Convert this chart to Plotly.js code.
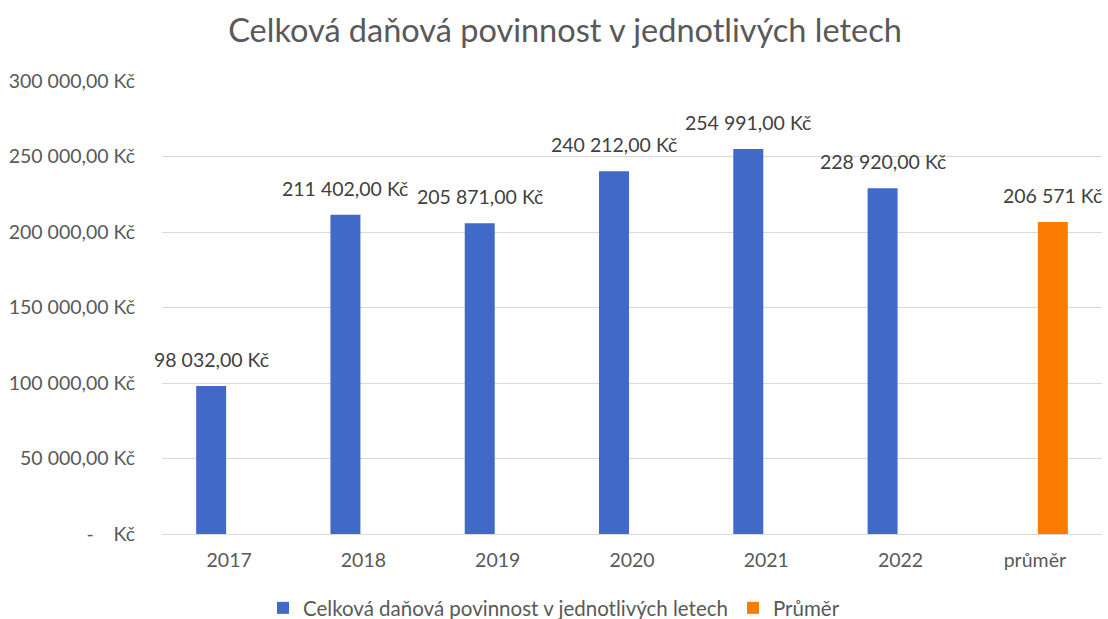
<!DOCTYPE html>
<html>
<head>
<meta charset="utf-8">
<script src="https://cdn.plot.ly/plotly-3.0.1.min.js"></script>
<style>html,body{margin:0;padding:0;background:#fff;}#chart{width:1108px;height:619px;}</style>
</head>
<body>
<div id="chart"></div>
<script>
const categories = ["2017", "2018", "2019", "2020", "2021", "2022", "průměr"];
const yearlyTax = [98032, 211402, 205871, 240212, 254991, 228920, null];
const averageTax = [null, null, null, null, null, null, 206571];
const seriesNames = ["Celková daňová povinnost v jednotlivých letech", "Průměr"];
const tickVals = [0, 50000, 100000, 150000, 200000, 250000, 300000];
const tickText = ["-\u00a0\u00a0\u00a0\u00a0Kč", "50\u00a0000,00 Kč", "100\u00a0000,00 Kč", "150\u00a0000,00 Kč", "200\u00a0000,00 Kč", "250\u00a0000,00 Kč", "300\u00a0000,00 Kč"];

function fmt(v, dec) {
  const parts = v.toFixed(dec).split(".");
  const intPart = parts[0].replace(/\B(?=(\d{3})+(?!\d))/g, "\u00a0");
  return intPart + (dec > 0 ? "," + parts[1] : "") + " Kč";
}

const FONT = "Lato, 'Open Sans', sans-serif";
const BLUE = "#4169C8";
const ORANGE = "#F97B00";

const traces = [
  { type: "bar", name: seriesNames[0], x: categories, y: yearlyTax, marker: { color: BLUE }, hoverinfo: "skip" },
  { type: "bar", name: seriesNames[1], x: categories, y: averageTax, marker: { color: ORANGE }, hoverinfo: "skip" }
];

const annotations = [];
categories.forEach((c, i) => {
  if (yearlyTax[i] != null) {
    annotations.push({ x: i, y: yearlyTax[i], xref: "x", yref: "y", text: fmt(yearlyTax[i], 2), showarrow: false,
      xshift: -18, yshift: 13, yanchor: "bottom", font: { family: FONT, size: 19.5, color: "#404040" } });
  }
  if (averageTax[i] != null) {
    annotations.push({ x: i, y: averageTax[i], xref: "x", yref: "y", text: fmt(averageTax[i], 0), showarrow: false,
      xshift: 18, yshift: 13, yanchor: "bottom", font: { family: FONT, size: 19.5, color: "#404040" } });
  }
});

const layout = {
  width: 1108, height: 619,
  margin: { l: 162, r: 6, t: 81, b: 85, autoexpand: false },
  paper_bgcolor: "#ffffff", plot_bgcolor: "#ffffff",
  font: { family: FONT, color: "#595959" },
  title: { text: "Celková daňová povinnost v jednotlivých letech", x: 0.51, xref: "container", xanchor: "center",
    y: 0.95, yref: "container", yanchor: "middle", font: { family: FONT, size: 32.5, color: "#595959" } },
  barmode: "group", bargap: 0.464, bargroupgap: 0.167,
  xaxis: { type: "category", range: [-0.5, 6.5], automargin: false, showgrid: false, showline: true, linecolor: "#d9d9d9", linewidth: 1,
    ticks: "outside", ticklen: 9, tickcolor: "rgba(0,0,0,0)", tickfont: { family: FONT, size: 19.5, color: "#595959" } },
  yaxis: { range: [0, 300000], automargin: false, tickvals: tickVals, ticktext: tickText, showgrid: true, gridcolor: "#d9d9d9", gridwidth: 1,
    zeroline: false, showline: false, ticks: "outside", ticklen: 22, tickcolor: "rgba(0,0,0,0)",
    tickfont: { family: FONT, size: 19.5, color: "#595959" } },
  showlegend: true,
  legend: { orientation: "h", xref: "container", x: 0.5, xanchor: "center", yref: "paper", y: -0.1634, yanchor: "middle",
    font: { family: FONT, size: 20.5, color: "#595959" }, itemwidth: 30, traceorder: "normal" },
  annotations: annotations
};

Plotly.newPlot("chart", traces, layout, { staticPlot: true, displayModeBar: false });
</script>
</body>
</html>
